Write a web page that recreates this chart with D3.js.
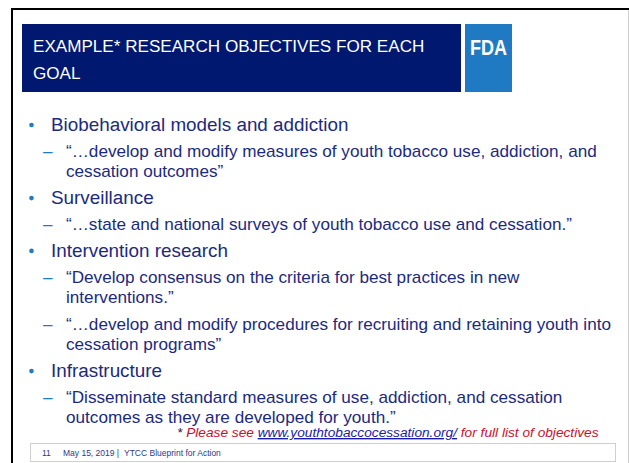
<!DOCTYPE html>
<html>
<head>
<meta charset="utf-8">
<script src="https://cdn.jsdelivr.net/npm/d3@7"></script>
<style>
  body { margin: 0; background: #fff; }
  svg { display: block; font-family: "Liberation Sans", Arial, sans-serif; }
</style>
</head>
<body>
<div id="slide"></div>
<script>
// slide content
var titleLines = ["EXAMPLE* RESEARCH OBJECTIVES FOR EACH", "GOAL"];
var headings = [
  "Biobehavioral models and addiction",
  "Surveillance",
  "Intervention research",
  "Infrastructure"
];
// quotes under each heading, each quote is a list of wrapped lines
var quotes = [
  [["“…develop and modify measures of youth tobacco use, addiction, and", "cessation outcomes”"]],
  [["“…state and national surveys of youth tobacco use and cessation.”"]],
  [["“Develop consensus on the criteria for best practices in new", "interventions.”"],
   ["“…develop and modify procedures for recruiting and retaining youth into", "cessation programs”"]],
  [["“Disseminate standard measures of use, addiction, and cessation", "outcomes as they are developed for youth.”"]]
];
var footnoteParts = ["* ", "Please see ", "www.youthtobaccocessation.org/", " for full list of objectives"];
var footerParts = ["11", "May 15, 2019 |", "YTCC Blueprint for Action"];

var svgWidth = 629;
var svgHeight = 463;
var navy = "#1b2a7e";
var lightBlue = "#1f7bc2";

var svg = d3.select("#slide")
  .append("svg")
  .attr("width", svgWidth)
  .attr("height", svgHeight);

// slide frame
svg.append("line").attr("x1", 12).attr("y1", 9).attr("x2", 629).attr("y2", 9)
  .attr("stroke", "#000").attr("stroke-width", 2);
svg.append("line").attr("x1", 12).attr("y1", 8).attr("x2", 12).attr("y2", 463)
  .attr("stroke", "#000").attr("stroke-width", 2);
svg.append("line").attr("x1", 628.5).attr("y1", 10).attr("x2", 628.5).attr("y2", 463)
  .attr("stroke", "#d0d0d0").attr("stroke-width", 1);

// title bar
svg.append("rect").attr("x", 22).attr("y", 24).attr("width", 439).attr("height", 68)
  .attr("fill", "#00186f");
svg.selectAll(".title")
  .data(titleLines)
  .enter()
  .append("text")
  .attr("class", "title")
  .attr("x", 33)
  .attr("y", (d, i) => 52 + i * 27)
  .attr("fill", "#fff")
  .attr("font-size", 17.1)
  .text(d => d);

// FDA logo box
svg.append("rect").attr("x", 465).attr("y", 24).attr("width", 47).attr("height", 68)
  .attr("fill", "#2079c3");
svg.append("text")
  .attr("x", 470).attr("y", 55)
  .attr("fill", "#fff")
  .attr("font-size", 22)
  .attr("font-weight", "bold")
  .attr("textLength", 37)
  .attr("lengthAdjust", "spacingAndGlyphs")
  .text("FDA");

// body: build a flat list of lines
var headGap = 26, lineH = 20.3, paraGap = 26.8;
var rows = [];
var y = 131;
headings.forEach(function(h, i) {
  if (i > 0) y += paraGap;
  rows.push({type: "head", text: h, y: y});
  quotes[i].forEach(function(q, j) {
    y += (j === 0) ? headGap : paraGap;
    q.forEach(function(line, k) {
      if (k > 0) y += lineH;
      rows.push({type: "sub", text: line, y: y, first: k === 0});
    });
  });
});

var body = svg.append("g");

body.selectAll(".bullet")
  .data(rows.filter(d => d.type === "head"))
  .enter()
  .append("circle")
  .attr("cx", 31.5)
  .attr("cy", d => d.y - 6)
  .attr("r", 2.3)
  .attr("fill", lightBlue);

body.selectAll(".dash")
  .data(rows.filter(d => d.type === "sub" && d.first))
  .enter()
  .append("text")
  .attr("x", 43)
  .attr("y", d => d.y)
  .attr("font-size", 17)
  .attr("fill", lightBlue)
  .text("–");

body.selectAll(".line")
  .data(rows)
  .enter()
  .append("text")
  .attr("x", d => d.type === "head" ? 51 : 66)
  .attr("y", d => d.y)
  .attr("font-size", d => d.type === "head" ? 18.85 : 17.15)
  .attr("fill", navy)
  .text(d => d.text);

// footnote
var foot = svg.append("text")
  .attr("x", 177).attr("y", 437)
  .attr("font-size", 13.7)
  .attr("font-style", "italic");
foot.selectAll("tspan")
  .data(footnoteParts)
  .enter()
  .append("tspan")
  .attr("fill", (d, i) => i === 0 ? "#3a1010" : (i === 2 ? "#1a1aa6" : "#c8102e"))
  .attr("text-decoration", (d, i) => i === 2 ? "underline" : null)
  .attr("xml:space", "preserve")
  .text(d => d);

// footer box
svg.append("rect").attr("x", 30.5).attr("y", 443.5).attr("width", 585).attr("height", 18)
  .attr("fill", "none").attr("stroke", "#cfcfcf");
svg.selectAll(".footer")
  .data(footerParts)
  .enter()
  .append("text")
  .attr("x", (d, i) => [42, 63, 124][i])
  .attr("y", 456)
  .attr("font-size", 8.5)
  .attr("fill", "#2a3a8a")
  .text(d => d);
</script>
</body>
</html>
